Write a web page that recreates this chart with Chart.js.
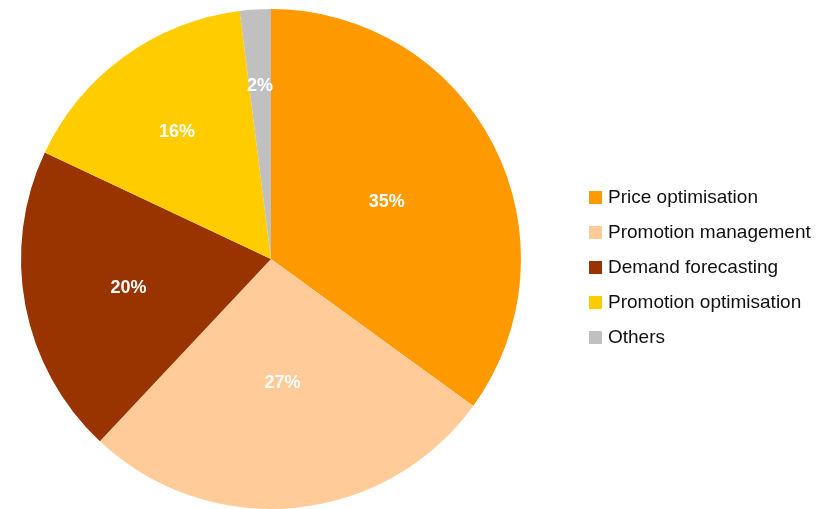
<!DOCTYPE html>
<html lang="en">
<head>
    <meta charset="UTF-8">
    <title>Pie chart</title>
    <script src="https://cdn.jsdelivr.net/npm/chart.js"></script>
    <style>
        html, body { margin: 0; padding: 0; background: #fff; }
        #wrap { width: 828px; height: 509px; position: relative; }
    </style>
</head>
<body>
    <div id="wrap"><canvas id="myChart"></canvas></div>
    <script>
        const categories = ['Price optimisation', 'Promotion management', 'Demand forecasting', 'Promotion optimisation', 'Others'];
        const shares = [35, 27, 20, 16, 2];
        const colors = ['#FF9900', '#FFCC99', '#993300', '#FFCC00', '#C0C0C0'];
        // how far out each percent label sits (fraction of radius)
        const labelRadius = [0.52, 0.49, 0.58, 0.64, 0.70];

        const FONT = '"Liberation Sans", Arial, sans-serif';

        // percent labels on slices
        const sliceLabels = {
            id: 'sliceLabels',
            afterDatasetsDraw(chart) {
                const ctx = chart.ctx;
                const arcs = chart.getDatasetMeta(0).data;
                ctx.save();
                ctx.fillStyle = '#fff';
                ctx.font = 'bold 18px ' + FONT;
                ctx.textAlign = 'center';
                ctx.textBaseline = 'middle';
                arcs.forEach((arc, i) => {
                    const mid = (arc.startAngle + arc.endAngle) / 2;
                    const r = arc.outerRadius * labelRadius[i];
                    ctx.fillText(shares[i] + '%', arc.x + Math.cos(mid) * r, arc.y + Math.sin(mid) * r + 2);
                });
                ctx.restore();
            }
        };

        // legend on the right
        const sideLegend = {
            id: 'sideLegend',
            afterDraw(chart) {
                const ctx = chart.ctx;
                ctx.save();
                ctx.font = '19px ' + FONT;
                ctx.textBaseline = 'middle';
                ctx.textAlign = 'left';
                categories.forEach((name, i) => {
                    const y = 197 + i * 35;
                    ctx.fillStyle = colors[i];
                    ctx.fillRect(589, y - 6, 13, 13);
                    ctx.fillStyle = '#111';
                    ctx.fillText(name, 608, y + 1);
                });
                ctx.restore();
            }
        };

        const ctx = document.getElementById('myChart').getContext('2d');
        const myChart = new Chart(ctx, {
            type: 'pie',
            data: {
                labels: categories,
                datasets: [{
                    data: shares,
                    backgroundColor: colors,
                    borderWidth: 0
                }]
            },
            options: {
                responsive: true,
                maintainAspectRatio: false,
                animation: false,
                layout: { padding: { top: 9, right: 286, bottom: 0, left: 0 } },
                plugins: {
                    legend: { display: false },
                    tooltip: { enabled: false }
                }
            },
            plugins: [sliceLabels, sideLegend]
        });
    </script>
</body>
</html>
